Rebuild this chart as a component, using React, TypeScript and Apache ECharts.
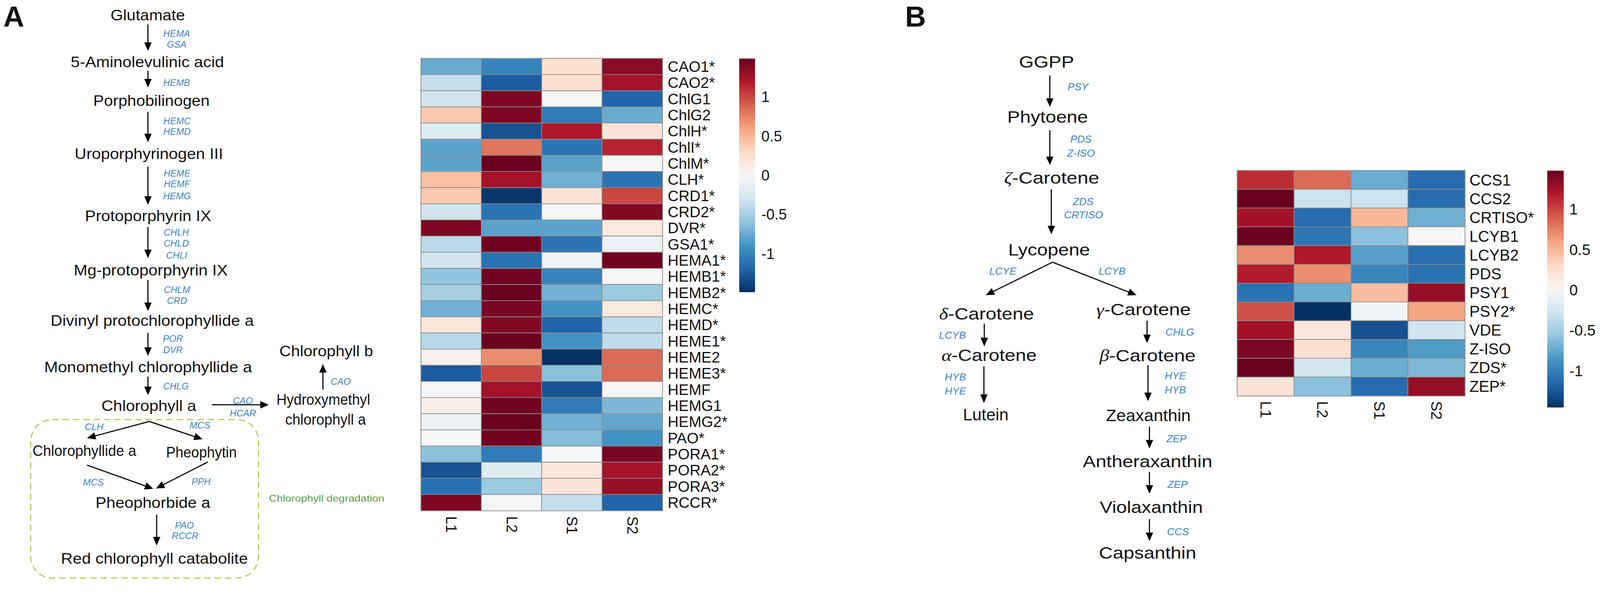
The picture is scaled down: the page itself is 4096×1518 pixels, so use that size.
import React, { useEffect, useRef } from 'react';
import * as echarts from 'echarts';

// ---------------- data ----------------
const sampleCols = ['L1', 'L2', 'S1', 'S2'];

const chlGenes = ['CAO1*', 'CAO2*', 'ChlG1', 'ChlG2', 'ChlH*', 'ChlI*', 'ChlM*', 'CLH*', 'CRD1*', 'CRD2*', 'DVR*', 'GSA1*', 'HEMA1*', 'HEMB1*', 'HEMB2*', 'HEMC*', 'HEMD*', 'HEME1*', 'HEME2', 'HEME3*', 'HEMF', 'HEMG1', 'HEMG2*', 'PAO*', 'PORA1*', 'PORA2*', 'PORA3*', 'RCCR*'];
const chlL1 = [-0.75, -0.35, -0.3, 0.4, -0.2, -0.8, -0.8, 0.45, 0.4, -0.3, 1.4, -0.4, -0.3, -0.6, -0.5, -0.72, 0.18, -0.42, 0.07, -1.25, -0.03, 0.08, -0.08, -0.02, -0.62, -1.3, -1.12, 1.4];
const chlL2 = [-1.0, -1.25, 1.4, 1.4, -1.3, 0.8, 1.48, 1.25, -1.45, -1.1, -0.8, 1.45, -1.1, 1.45, 1.48, 1.42, 1.38, 1.48, 0.7, 1.0, 1.25, 1.45, 1.48, 1.45, -1.05, -0.2, -0.55, -0.03];
const chlS1 = [0.25, 0.25, 0.02, -1.05, 1.2, -1.1, -0.8, -0.72, 0.2, -0.02, -0.8, -1.1, -0.07, -1.0, -0.72, -0.9, -1.2, -0.9, -1.48, -0.62, -1.3, -1.05, -0.72, -0.65, -0.02, 0.18, 0.2, -0.35];
const chlS2 = [1.35, 1.25, -1.2, -0.75, 0.2, 1.15, 0.0, -1.1, 1.0, 1.38, 0.15, -0.08, 1.45, -0.02, -0.55, 0.15, -0.38, -0.38, 0.85, 0.85, 0.02, -0.68, -0.78, -0.9, 1.42, 1.25, 1.3, -1.2];

const carGenes = ['CCS1', 'CCS2', 'CRTISO*', 'LCYB1', 'LCYB2', 'PDS', 'PSY1', 'PSY2*', 'VDE', 'Z-ISO', 'ZDS*', 'ZEP*'];
const carL1 = [1.1, 1.47, 1.25, 1.47, 0.7, 1.18, -1.08, 0.95, 1.25, 1.4, 1.47, 0.22];
const carL2 = [0.85, -0.3, -1.12, -1.05, 1.2, 0.7, -0.72, -1.45, 0.18, 0.25, -0.27, -0.6];
const carS1 = [-0.72, -0.3, 0.5, -0.6, -0.8, -0.95, 0.47, -0.03, -1.28, -0.95, -0.72, -1.12];
const carS2 = [-1.12, -1.12, -0.7, 0.02, -1.1, -1.08, 1.3, 0.6, -0.28, -0.82, -0.65, 1.3];

const chlRange = [-1.49, 1.49];
const carRange = [-1.455, 1.48];
const colorbarTicks = [-1, -0.5, 0, 0.5, 1];

const chlNodes = ['Glutamate', '5-Aminolevulinic acid', 'Porphobilinogen', 'Uroporphyrinogen III', 'Protoporphyrin IX', 'Mg-protoporphyrin IX', 'Divinyl protochlorophyllide a', 'Monomethyl chlorophyllide a', 'Chlorophyll a', 'Chlorophyll b', 'Hydroxymethyl', 'chlorophyll a', 'Chlorophyllide a', 'Pheophytin', 'Pheophorbide a', 'Red chlorophyll catabolite'];
const chlEnzymes = ['HEMA', 'GSA', 'HEMB', 'HEMC', 'HEMD', 'HEME', 'HEMF', 'HEMG', 'CHLH', 'CHLD', 'CHLI', 'CHLM', 'CRD', 'POR', 'DVR', 'CHLG', 'CAO', 'HCAR', 'CAO', 'CLH', 'MCS', 'MCS', 'PPH', 'PAO', 'RCCR'];
const carNodes = ['GGPP', 'Phytoene', 'ζ-Carotene', 'Lycopene', 'δ-Carotene', 'γ-Carotene', 'α-Carotene', 'β-Carotene', 'Lutein', 'Zeaxanthin', 'Antheraxanthin', 'Violaxanthin', 'Capsanthin'];
const carEnzymes = ['PSY', 'PDS', 'Z-ISO', 'ZDS', 'CRTISO', 'LCYE', 'LCYB', 'LCYB', 'HYB', 'HYE', 'CHLG', 'HYE', 'HYB', 'ZEP', 'ZEP', 'CCS'];

// ---------------- layout (reference pixel coordinates) ----------------
const S = 0.948;
const s = (v: number) => v * S;
const FONT = '"Liberation Sans", Arial, Helvetica, sans-serif';
const BLUE = '#3a83c9';
const BLACK = '#111111';
const RDBU = ['#053061', '#2166ac', '#4393c3', '#92c5de', '#d1e5f0', '#f7f7f7', '#fddbc7', '#f4a582', '#d6604d', '#b2182b', '#67001f'];

// [cx, cy, width]
const chlNodePos = [[399, 41, 201], [398, 167, 414], [409, 271.5, 314], [402, 416, 401], [400, 583, 341], [407, 730, 416], [411, 866, 549], [400, 991, 561], [402, 1096, 256], [881, 948, 253], [873, 1079, 253], [879, 1133, 218], [228, 1217, 280], [544, 1221, 191], [413, 1358, 310], [417, 1508, 505]];
const chlEnzPos = [[477, 91], [477, 120], [477, 224], [478, 327.5], [478, 356], [478, 468], [478, 497], [478, 529.5], [476, 628], [476, 657.5], [477, 690], [478, 783], [478, 812], [467, 915], [467, 945], [475, 1043], [656, 1082], [656, 1116], [920, 1031], [254, 1153], [540, 1149], [252, 1303], [543, 1301], [498, 1418.5], [500, 1447]];
const chlArrows = [[399.5, 66, 399.5, 137.5], [399.5, 191, 399.5, 236], [399.5, 302, 399.5, 384], [399.5, 450, 399.5, 553], [399.5, 613, 399.5, 697], [399.5, 756, 399.5, 840], [399.5, 899, 399.5, 961], [399.5, 1017, 399.5, 1067], [572, 1093, 726, 1093], [872, 1052, 872, 983], [403, 1138, 235, 1183], [403, 1138, 547, 1186], [235, 1256, 414, 1320], [561, 1247.5, 421, 1319], [423, 1390, 423, 1473]];

const carNodePos = [[2826, 168, 149], [2829, 316, 218], [2840, 481, 259], [2833, 675, 221], [2664, 848, 261], [3088, 836, 261], [2671, 960, 260], [3099, 960, 264], [2662, 1120, 123], [3101, 1122, 229], [3099, 1247, 350], [3109, 1370, 278], [3099, 1494, 263]];
const carEnzPos = [[2911, 234], [2919, 376], [2919, 413], [2925, 544], [2926, 580], [2708, 732], [3003, 732], [2572, 905], [2580, 1018], [2580, 1056], [3186, 897], [3174, 1015], [3174, 1053], [3177, 1185], [3180, 1308], [3181, 1436]];
const carArrows = [[2835, 204, 2835, 288.5], [2835, 351.5, 2835, 446], [2839, 511, 2839, 632.6], [2842, 708, 2662, 797], [2842, 708, 3069, 797], [2658, 874, 2658, 935], [2657, 989, 2657, 1088], [3097.5, 866, 3097.5, 926.5], [3100, 986, 3100, 1083], [3104, 1152, 3104, 1211], [3104, 1274.5, 3104, 1333], [3104, 1402, 3104, 1461]];

let mctx: CanvasRenderingContext2D | null = null;
function measure(t: string, fs: number, st: string) {
  if (!mctx) mctx = document.createElement('canvas').getContext('2d');
  if (!mctx) return t.length * fs * 0.55;
  mctx.font = `${st} ${fs}px ${FONT}`;
  return mctx.measureText(t).width;
}

function label(t: string, cx: number, cy: number, fs: number, opt: any = {}) {
  const color = opt.color || BLACK;
  const fontStyle = opt.italic ? 'italic' : 'normal';
  const fontWeight = opt.bold ? 'bold' : 'normal';
  let scaleX = 1;
  if (opt.w) scaleX = opt.w / measure(t, fs, `${fontStyle} ${fontWeight}`);
  const style: any = {
    text: t, fontSize: s(fs), fontFamily: FONT, fontStyle, fontWeight, fill: color,
    align: opt.align || 'center', verticalAlign: 'middle',
  };
  if (opt.greek) {
    style.text = `{g|${t[0]}}${t.slice(1)}`;
    style.rich = { g: { fontFamily: '"Liberation Serif", "DejaVu Serif", serif', fontStyle: 'italic', fontSize: s(fs), fill: color } };
  }
  return { type: 'text', x: s(cx), y: s(cy), scaleX, silent: true, style };
}

function arrow(a: number[]) {
  const [x1, y1, x2, y2] = a;
  const head = 23, hw = 10;
  const dx = x2 - x1, dy = y2 - y1;
  const L = Math.hypot(dx, dy);
  const ux = dx / L, uy = dy / L;
  const bx = x2 - ux * head, by = y2 - uy * head;
  return [
    { type: 'line', silent: true, shape: { x1: s(x1), y1: s(y1), x2: s(bx + ux * 2), y2: s(by + uy * 2) }, style: { stroke: '#000', lineWidth: s(3) } },
    { type: 'polygon', silent: true, shape: { points: [[s(x2), s(y2)], [s(bx - uy * hw), s(by + ux * hw)], [s(bx + uy * hw), s(by - ux * hw)]] }, style: { fill: '#000' } },
  ];
}

function buildGraphic() {
  const el: any[] = [];
  el.push(label('A', 9, 45, 78, { bold: true, align: 'left' }));
  el.push(label('B', 2444, 45, 78, { bold: true, align: 'left' }));
  // dashed degradation box
  el.push({ type: 'rect', silent: true, shape: { x: s(83), y: s(1133), width: s(615), height: s(428), r: s(58) }, style: { fill: 'none', stroke: '#a8c43e', lineWidth: s(2.6), lineDash: [s(17), s(11)] } });
  el.push(label('Chlorophyll degradation', 726, 1346, 26, { color: '#5f9a3e', align: 'left', w: 312 }));
  chlNodes.forEach((t, i) => { const p = chlNodePos[i]; el.push(label(t, p[0], p[1], 41, { w: p[2] })); });
  chlEnzymes.forEach((t, i) => { const p = chlEnzPos[i]; el.push(label(t, p[0], p[1], 25, { italic: true, color: BLUE })); });
  chlArrows.forEach(a => el.push(...arrow(a)));
  carNodes.forEach((t, i) => {
    const p = carNodePos[i];
    el.push(label(t, p[0], p[1], 44, { w: p[2], greek: /^[ζδγαβ]/.test(t) }));
  });
  carEnzymes.forEach((t, i) => { const p = carEnzPos[i]; el.push(label(t, p[0], p[1], 28, { italic: true, color: BLUE })); });
  carArrows.forEach(a => el.push(...arrow(a)));
  return el;
}

function heatData(cols: number[][]) {
  const d: any[] = [];
  cols.forEach((col, c) => col.forEach((v, r) => d.push([c, r, v])));
  return d;
}

const axisText = { color: BLACK, fontFamily: FONT };

export default function App() {
  const ref = useRef<HTMLDivElement>(null);
  useEffect(() => {
    document.body.style.margin = '0';
    if (!ref.current) return;
    const chart = echarts.init(ref.current, null, { renderer: 'svg' });
    const hide = { axisLine: { show: false }, axisTick: { show: false }, splitLine: { show: false } };
    const option: any = {
      animation: false,
      backgroundColor: '#ffffff',
      grid: [
        { left: s(1137), top: s(158), width: s(652), height: s(1221), outerBoundsMode: 'none' },
        { left: s(3341), top: s(460.6), width: s(615), height: s(608.5), outerBoundsMode: 'none' },
        { left: s(1996), top: s(158), width: s(43), height: s(631), outerBoundsMode: 'none' },
        { left: s(4178), top: s(460.6), width: s(45), height: s(640), outerBoundsMode: 'none' },
      ],
      xAxis: [
        { type: 'category', gridIndex: 0, data: sampleCols, position: 'bottom', ...hide, axisLabel: { ...axisText, interval: 0, rotate: -90, margin: s(15), fontSize: s(40) } },
        { type: 'category', gridIndex: 1, data: sampleCols, position: 'bottom', ...hide, axisLabel: { ...axisText, interval: 0, rotate: -90, margin: s(14), fontSize: s(41) } },
        { type: 'value', gridIndex: 2, show: false },
        { type: 'value', gridIndex: 3, show: false },
      ],
      yAxis: [
        { type: 'category', gridIndex: 0, data: chlGenes, inverse: true, position: 'right', ...hide, axisLabel: { ...axisText, interval: 0, hideOverlap: false, margin: s(14), fontSize: s(41) } },
        { type: 'category', gridIndex: 1, data: carGenes, inverse: true, position: 'right', ...hide, axisLabel: { ...axisText, interval: 0, hideOverlap: false, margin: s(12), fontSize: s(42) } },
        { type: 'value', gridIndex: 2, min: chlRange[0], max: chlRange[1], position: 'right', ...hide, axisLabel: { ...axisText, margin: s(17), fontSize: s(40), customValues: colorbarTicks } },
        { type: 'value', gridIndex: 3, min: carRange[0], max: carRange[1], position: 'right', ...hide, axisLabel: { ...axisText, margin: s(15), fontSize: s(41), customValues: colorbarTicks } },
      ],
      visualMap: [
        { type: 'continuous', seriesIndex: 0, min: chlRange[0], max: chlRange[1], orient: 'vertical', left: s(1996), top: s(158), itemWidth: s(43), itemHeight: s(631), padding: 0, calculable: false, hoverLink: false, inRange: { color: RDBU } },
        { type: 'continuous', seriesIndex: 1, min: carRange[0], max: carRange[1], orient: 'vertical', left: s(4178), top: s(460.6), itemWidth: s(45), itemHeight: s(640), padding: 0, calculable: false, hoverLink: false, inRange: { color: RDBU } },
      ],
      series: [
        { type: 'heatmap', xAxisIndex: 0, yAxisIndex: 0, data: heatData([chlL1, chlL2, chlS1, chlS2]), itemStyle: { borderColor: '#8c8c8c', borderWidth: s(2) }, emphasis: { disabled: true } },
        { type: 'heatmap', xAxisIndex: 1, yAxisIndex: 1, data: heatData([carL1, carL2, carS1, carS2]), itemStyle: { borderColor: '#8c8c8c', borderWidth: s(2) }, emphasis: { disabled: true } },
      ],
      graphic: { elements: buildGraphic() },
    };
    chart.setOption(option);
    return () => chart.dispose();
  }, []);
  return <div ref={ref} style={{ width: 4096, height: 1518, position: 'absolute', left: 0, top: 0 }} />;
}
